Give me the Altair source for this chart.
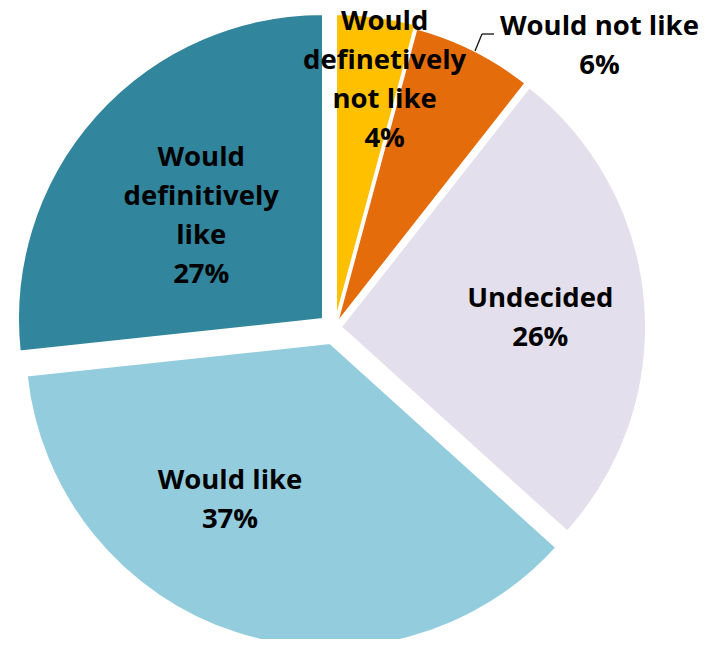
import math
import altair as alt
import pandas as pd

# ---- data ----
categories = ["Would definetively not like", "Would not like", "Undecided",
              "Would like", "Would definitively like"]
values = [4.2, 6.4, 26.1, 36.6, 26.7]
label_lines = [["Would", "definetively", "not like"], ["Would not like"], ["Undecided"],
               ["Would like"], ["Would", "definitively", "like"]]
colors = ["#FFC000", "#E46C0A", "#E4DFEC", "#93CDDD", "#31859C"]

df = pd.DataFrame({
    "category": categories,
    "value": values,
    "order": list(range(len(categories))),
    "label": ["\n".join(l + [f"{round(v)}%"]) for l, v in zip(label_lines, values)],
})

# ---- style: slice explosion offsets (px) and label placement ----
LINE_H = 39
explode = {
    "Would definetively not like": (0, 0),
    "Would not like": (1, 4),
    "Undecided": (5, 8),
    "Would like": (-6, 24),
    "Would definitively like": (-13, 0),
}
label_style = {  # radius, nudge x, nudge y
    "Would definetively not like": (248, 16, 5),
    "Would not like": (369, 97, 51),
    "Undecided": (199, 1, 6),
    "Would like": (178, -45, -14),
    "Would definitively like": (161, -2, 3),
}

theta_scale = alt.Scale(domain=[0, 100], range=[0, 2 * math.pi])
color = alt.Color("category:N", scale=alt.Scale(domain=categories, range=colors), legend=None)

base = alt.Chart(df).transform_window(
    cum="sum(value)", sort=[alt.SortField("order")], frame=[None, 0]
).transform_calculate(
    start="datum.cum - datum.value", mid="datum.cum - datum.value / 2"
)

arcs, texts = [], []
for cat, lines in zip(categories, label_lines):
    dx, dy = explode[cat]
    r, nx, ny = label_style[cat]
    n_lines = len(lines) + 1
    v_center = -(n_lines - 1) * LINE_H / 2 + 2.5  # centre the text block vertically
    sub = base.transform_filter(alt.datum.category == cat)
    arcs.append(
        sub.mark_arc(outerRadius=305, stroke="white", strokeWidth=2, xOffset=dx, yOffset=dy)
        .encode(theta=alt.Theta("start:Q", scale=theta_scale, stack=None),
                theta2="cum:Q", color=color)
    )
    texts.append(
        sub.mark_text(radius=r, xOffset=dx + nx, yOffset=dy + ny + v_center, font="Open Sans",
                      fontWeight="bold", fontSize=27.5, lineHeight=LINE_H, lineBreak="\n",
                      color="black", align="center", baseline="middle")
        .encode(theta=alt.Theta("mid:Q", scale=theta_scale, stack=None), text="label:N")
    )

leader_src = alt.Chart(df).transform_filter(alt.datum.category == "Would not like")
leader1 = leader_src.mark_rule(color="#111111", strokeWidth=1.3).encode(
    x=alt.value(467), y=alt.value(43), x2=alt.value(474), y2=alt.value(26))
leader2 = leader_src.mark_rule(color="#111111", strokeWidth=1.3).encode(
    x=alt.value(474), y=alt.value(26), x2=alt.value(486), y2=alt.value(26))

chart = alt.layer(*arcs, leader1, leader2, *texts).properties(
    width=656, height=622, autosize="none",
    padding={"left": 0, "top": 0, "right": 40, "bottom": 9},
).configure_view(strokeWidth=0)

chart.save("out.html", embed_options={"renderer": "svg", "actions": False})
